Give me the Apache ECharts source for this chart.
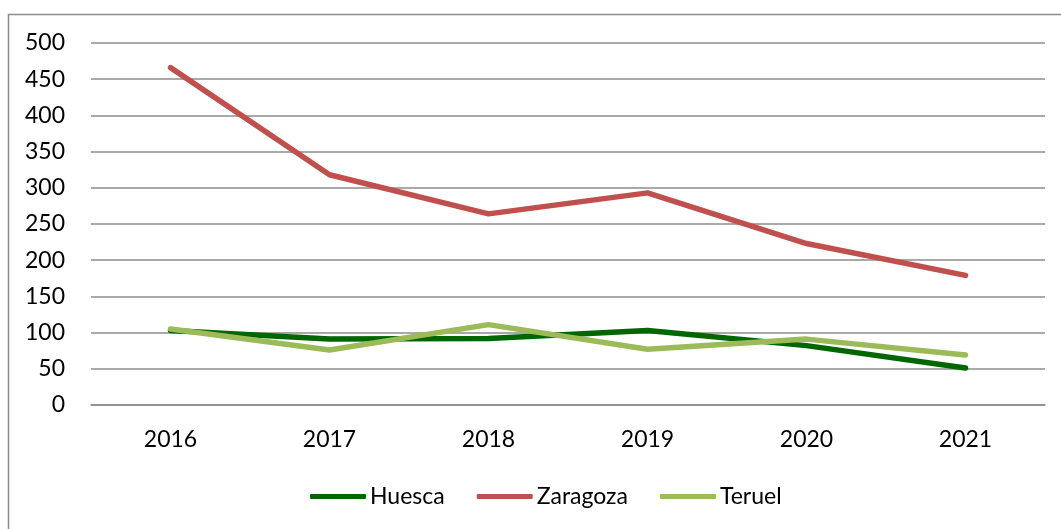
<!DOCTYPE html>
<html>
<head>
<meta charset="utf-8">
<script src="https://cdn.jsdelivr.net/npm/echarts@6/dist/echarts.min.js"></script>
<style>
html,body{margin:0;padding:0;background:#fff;}
#chart{width:1061px;height:529px;}
</style>
</head>
<body>
<div id="chart"></div>
<script>
const years = ['2016','2017','2018','2019','2020','2021'];
const huesca = [103, 91, 92, 103, 82, 51];
const zaragoza = [466, 318, 264, 293, 223, 179];
const teruel = [105, 76, 111, 77, 91, 69];
const yTicks = {min: 0, max: 500, interval: 50};

const FONT = 'Lato';
const FS = 23;
const chart = echarts.init(document.getElementById('chart'));
function mk(name, data, color) {
  return {
    name: name, type: 'line', data: data, symbol: 'none', smooth: false,
    lineStyle: {color: color, width: 5.5, cap: 'round', join: 'round'},
    itemStyle: {color: color},
    emphasis: {disabled: true}
  };
}
chart.setOption({
  animation: false,
  backgroundColor: '#ffffff',
  textStyle: {fontFamily: FONT},
  graphic: [{
    type: 'rect', silent: true,
    shape: {x: 8.5, y: 14.5, width: 1120, height: 600},
    style: {fill: 'none', stroke: '#8c8c8c', lineWidth: 1.5}
  }],
  grid: {left: 91, right: 16, top: 43, bottom: 124, containLabel: false},
  xAxis: {
    type: 'category', data: years, boundaryGap: true,
    axisLine: {show: true, lineStyle: {color: '#8c8c8c', width: 1.5}},
    axisTick: {show: false},
    axisLabel: {color: '#000', fontSize: FS, fontFamily: FONT, margin: 23}
  },
  yAxis: {
    type: 'value', min: yTicks.min, max: yTicks.max, interval: yTicks.interval,
    axisLine: {show: false}, axisTick: {show: false},
    splitLine: {lineStyle: {color: '#8c8c8c', width: 1.5}},
    axisLabel: {color: '#000', fontSize: FS, fontFamily: FONT, margin: 26}
  },
  legend: {
    bottom: 16, left: 305,
    icon: 'roundRect', itemWidth: 56, itemHeight: 5, itemGap: 32,
    textStyle: {color: '#000', fontSize: FS, fontFamily: FONT, padding: [0,0,0,-1]},
    data: ['Huesca','Zaragoza','Teruel']
  },
  series: [
    mk('Huesca', huesca, '#006600'),
    mk('Zaragoza', zaragoza, '#C0504D'),
    mk('Teruel', teruel, '#9BBB59')
  ]
});
</script>
</body>
</html>
